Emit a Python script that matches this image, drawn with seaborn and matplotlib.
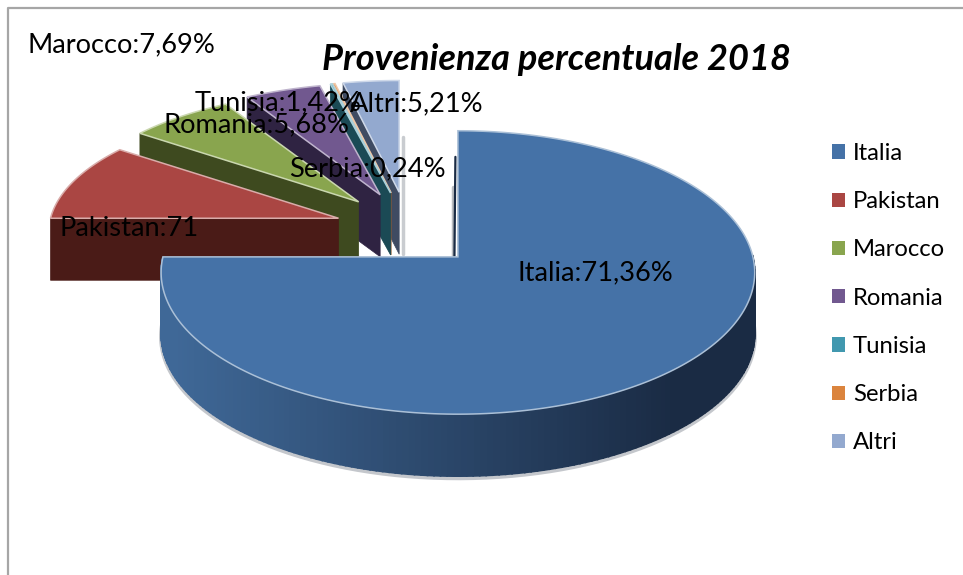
import matplotlib
matplotlib.use("Agg")
import matplotlib.pyplot as plt
from matplotlib.colors import to_rgb
from matplotlib.patches import Patch
import numpy as np
import seaborn as sns

# data
names = ["Italia", "Pakistan", "Marocco", "Romania", "Tunisia", "Serbia", "Altri"]
values = [71.36, 8.40, 7.69, 5.68, 1.42, 0.24, 5.21]
top_colors = ["#4572a7", "#aa4643", "#89a54e", "#71588f", "#4198af", "#db843d", "#93a9cf"]
wall_colors = ["#284a70", "#4a1b17", "#3e4a1f", "#2f2342", "#1b4a55", "#8a5a30", "#3f4b62"]

# the 3D view of the original bends the angles, true -> drawn (clockwise from 12 o'clock)
angle_true = [0, 256.9, 287.1, 314.8, 335.2, 340.3, 341.2, 360]
angle_shown = [0, 270, 306, 329.6, 346.6, 347, 347.5, 360]

CENTER = (407, 230)
EXPLODE = (72, 38)
DEPTH = 62
K = 0.11

sns.set_theme(style="white")
plt.rcParams["font.family"] = ["Lato", "DejaVu Sans"]

fig, ax = plt.subplots(figsize=(9.63, 5.75), dpi=100)
ax.set_position([0, 0, 1, 1])
ax.set_xlim(0, 963)
ax.set_ylim(575, 0)
ax.axis("off")

palette = sns.color_palette(top_colors)


def project(apex, alpha, big):
    a = np.radians(alpha)
    rx, ry = (295, 140) if big else (288, 124)
    den = 1 + K * np.cos(a)
    return apex[0] + rx * np.sin(a) / den, apex[1] - ry * np.cos(a) / den


edges = np.concatenate([[0], np.cumsum(values) / np.sum(values) * 360])
shown = np.interp(edges, angle_true, angle_shown)

# back slices first, Italia goes on top of them all
for i in [6, 5, 4, 3, 2, 1, 0]:
    a1, a2 = shown[i], shown[i + 1]
    mid = np.radians((a1 + a2) / 2)
    apex = (CENTER[0] + EXPLODE[0] * np.sin(mid), CENTER[1] - EXPLODE[1] * np.cos(mid))
    big = i == 0
    arc = np.linspace(a1, a2, 240 if big else 40)
    ax_x, ax_y = project(apex, arc, big)

    if big:
        # soft shadow under the wall and beside the cut
        front = np.cos(np.radians(arc)) < 0.02
        ax.plot(ax_x[front], ax_y[front] + DEPTH + 2, color="#c4c7cc", lw=3, zorder=10 - i)
        ax.plot([apex[0] - 5, apex[0] - 5], [apex[1] - 70, apex[1]], color="#b9bcc0", lw=2.5, zorder=10 - i)
        ax.plot([apex[0] - 2.5, apex[0] - 3.5], [apex[1] - 100, apex[1]], color="#1a2b44", lw=1.6, zorder=10 - i)
        light = np.array(to_rgb("#3f6897"))
        dark = np.array(to_rgb("#1a2b44"))
        for j in range(len(arc) - 1):
            if not front[j]:
                continue
            t = np.clip((ax_x[j] - 175) / 500, 0, 1)
            col = light * (1 - t) + dark * t
            ax.fill([ax_x[j], ax_x[j + 1], ax_x[j + 1], ax_x[j]],
                    [ax_y[j], ax_y[j + 1], ax_y[j + 1] + DEPTH, ax_y[j] + DEPTH],
                    facecolor=col, edgecolor=col, lw=1.2, zorder=10 - i)
    else:
        # radial wall of the exploded slice
        ax.fill([apex[0], ax_x[0], ax_x[0], apex[0]],
                [apex[1], ax_y[0], ax_y[0] + DEPTH, apex[1] + DEPTH],
                color=wall_colors[i], lw=0.5, zorder=10 - i)
        if i == 6:
            ax.plot([apex[0] + 4, apex[0] + 4], [apex[1] - 55, apex[1] + DEPTH],
                    color="#c9ccd0", lw=2.5, zorder=10 - i)

    rgb = np.array(palette[i])
    ax.fill(np.r_[apex[0], ax_x], np.r_[apex[1], ax_y], facecolor=palette[i],
            edgecolor=tuple(rgb + (1 - rgb) * 0.55), lw=1.1, zorder=10 - i + 0.5)

# labels
label_text = [f"{n}:{v:.2f}%".replace(".", ",") for n, v in zip(names, values)]
label_text[1] = "Pakistan:71"
label_pos = [(517, 280), (60, 236), (28, 52), (163, 132), (195, 110), (289, 176), (350, 111)]
for txt, (lx, ly) in zip(label_text, label_pos):
    ax.text(lx, ly, txt, fontsize=19.6, color="black", va="baseline", ha="left", zorder=30)

ax.text(556, 70, "Provenienza percentuale 2018", fontsize=26, fontweight="bold",
        fontstyle="italic", color="black", ha="center", va="baseline", zorder=30)

# frame, only top and left show in the crop
ax.plot([8, 8, 963], [575, 8, 8], color="#a6a6a6", lw=1.6, zorder=1)

handles = [Patch(facecolor=c, edgecolor="none", label=n) for c, n in zip(palette, names)]
ax.legend(handles=handles, loc="upper left", bbox_to_anchor=(832, 143), bbox_transform=ax.transData,
          frameon=False, fontsize=17.2, labelspacing=1.14, handlelength=0.55, handleheight=0.55,
          handletextpad=0.33, borderpad=0, borderaxespad=0, labelcolor="black")

fig.savefig("out.png", dpi=100)
